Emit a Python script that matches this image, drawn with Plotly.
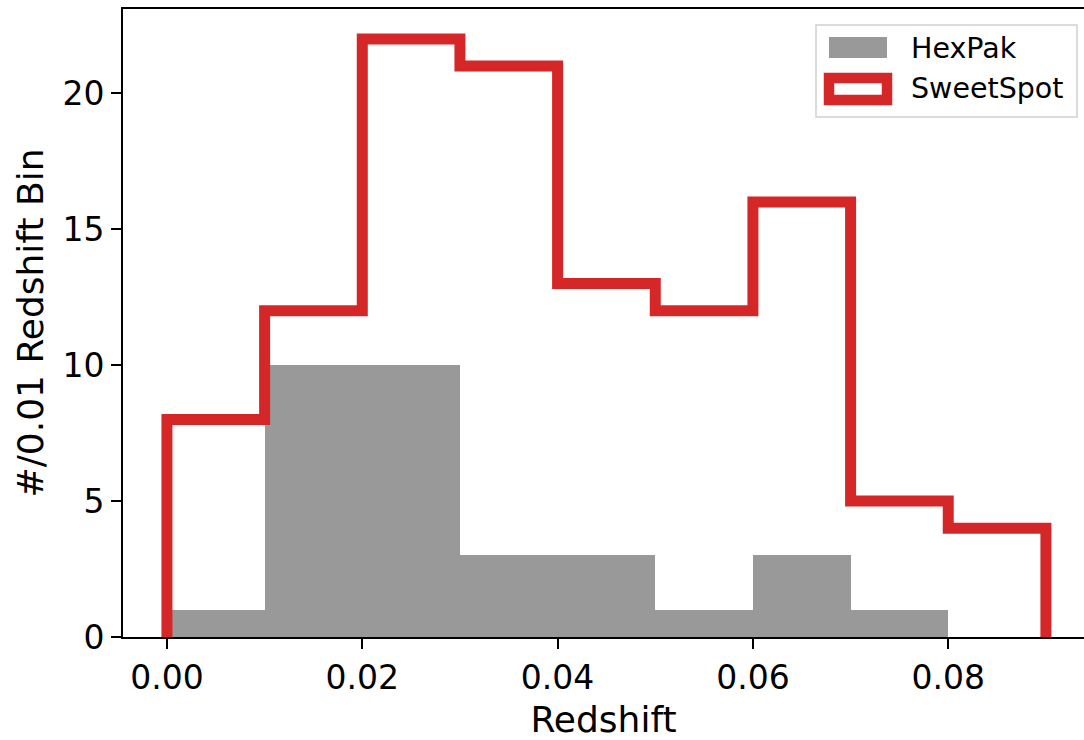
import plotly.graph_objects as go

bin_edges = [0.00, 0.01, 0.02, 0.03, 0.04, 0.05, 0.06, 0.07, 0.08, 0.09]
hexpak_counts = [1, 10, 10, 3, 3, 1, 3, 1, 0]
sweetspot_counts = [8, 12, 22, 21, 13, 12, 16, 5, 4]
x_ticks = [0.00, 0.02, 0.04, 0.06, 0.08]
x_tick_labels = ["0.00", "0.02", "0.04", "0.06", "0.08"]
y_ticks = [0, 5, 10, 15, 20]

RED = "#d62728"
GRAY = "#999999"
FONT = "DejaVu Sans"

L, R, T, B = 123, 0, 9, 103
W, H = 1084, 740
pw, ph = W - L - R, H - T - B

def px(x):
    return (x - L) / pw

def py(y):
    return (H - B - y) / ph

fig = go.Figure()
fig.add_trace(go.Bar(
    x=[e + 0.005 for e in bin_edges[:-1]], y=hexpak_counts, width=0.01,
    marker=dict(color=GRAY, line=dict(width=0)), name="HexPak", showlegend=False,
))
step_x = [bin_edges[0]] + bin_edges[:-1] + [bin_edges[-1]]
step_y = [0] + sweetspot_counts + [0]
fig.add_trace(go.Scatter(
    x=step_x, y=step_y, mode="lines", line=dict(color=RED, width=11, shape="hv"),
    name="SweetSpot", showlegend=False,
))

shapes = [
    dict(type="rect", xref="paper", yref="paper", x0=px(816), x1=px(1077), y0=py(117), y1=py(25),
         line=dict(color="#d0d0d0", width=1.5), fillcolor="rgba(255,255,255,0.8)", layer="above"),
    dict(type="rect", xref="paper", yref="paper", x0=px(829), x1=px(887), y0=py(58), y1=py(37),
         line=dict(width=0), fillcolor=GRAY, layer="above"),
    dict(type="rect", xref="paper", yref="paper", x0=px(829), x1=px(887), y0=py(100), y1=py(78),
         line=dict(color=RED, width=10.5), fillcolor="white", layer="above"),
]
annotations = [
    dict(text="HexPak", x=px(909), y=py(48), xref="paper", yref="paper", xanchor="left",
         yanchor="middle", showarrow=False, font=dict(family=FONT, size=28.5, color="black")),
    dict(text="SweetSpot", x=px(909), y=py(89), xref="paper", yref="paper", xanchor="left",
         yanchor="middle", showarrow=False, font=dict(family=FONT, size=28.5, color="black")),
]

fig.update_layout(
    width=W, height=H, margin=dict(l=L, r=R, t=T, b=B),
    plot_bgcolor="white", paper_bgcolor="white", bargap=0,
    font=dict(family=FONT, color="black"),
    shapes=shapes, annotations=annotations, showlegend=False,
)
fig.update_xaxes(
    range=[-0.0045, 0.0939], tickvals=x_ticks, ticktext=x_tick_labels,
    showgrid=False, zeroline=False, showline=True, mirror=True, linecolor="black", linewidth=2,
    ticks="outside", ticklen=10, tickwidth=2, tickcolor="black", tickfont=dict(size=33),
    title=dict(text="Redshift", font=dict(size=36), standoff=11),
)
fig.update_yaxes(
    range=[0, 23.1], tickvals=y_ticks,
    showgrid=False, zeroline=False, showline=True, mirror=False, linecolor="black", linewidth=2,
    ticks="outside", ticklen=10, tickwidth=2, tickcolor="black", tickfont=dict(size=33),
    title=dict(text="#/0.01 Redshift Bin", font=dict(size=36), standoff=8),
)
fig.write_html("out.html")
